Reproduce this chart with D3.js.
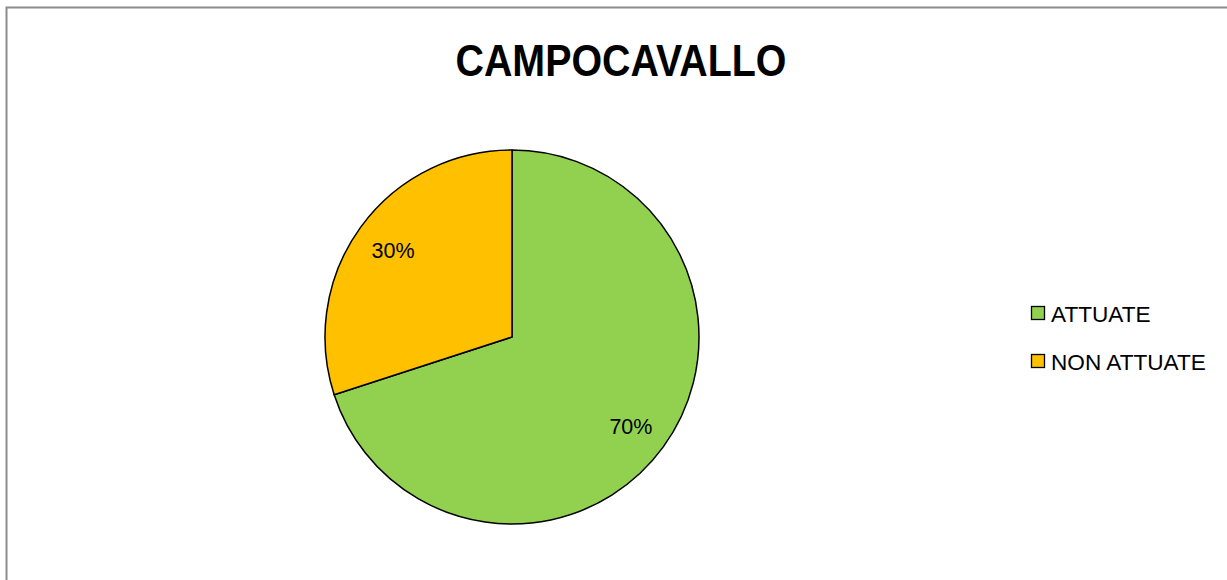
<!DOCTYPE html>
<html><head><meta charset="utf-8">
<script src="https://cdn.jsdelivr.net/npm/d3@7"></script>
<style>body{margin:0;background:#fff}svg{display:block}</style>
</head><body>
<script>
const title = "CAMPOCAVALLO";
const categories = ["ATTUATE", "NON ATTUATE"];
const values = [70, 30];
const labels = ["70%", "30%"];
const colors = ["#92D050", "#FFC000"];

const W = 1227, H = 580;
const svg = d3.select("body").append("svg").attr("width", W).attr("height", H);
svg.append("rect").attr("width", W).attr("height", H).attr("fill", "#fff");
svg.append("rect").attr("x", 6.5).attr("y", 7.5).attr("width", W + 20).attr("height", H + 20)
  .attr("fill", "none").attr("stroke", "#8c8c8c").attr("stroke-width", 2);

svg.append("text").attr("x", 621).attr("y", 76).attr("text-anchor", "middle")
  .attr("font-family", "Liberation Sans, Arial, sans-serif").attr("font-weight", "bold")
  .attr("font-size", 44).attr("textLength", 331).attr("lengthAdjust", "spacingAndGlyphs")
  .text(title);

const cx = 512, cy = 337, r = 187;
const pie = d3.pie().sort(null).value(d => d)(values);
const arc = d3.arc().innerRadius(0).outerRadius(r);
const labelArc = d3.arc().innerRadius(147).outerRadius(147);
const g = svg.append("g").attr("transform", `translate(${cx},${cy})`);
g.selectAll("path").data(pie).join("path")
  .attr("d", arc).attr("fill", (d, i) => colors[i])
  .attr("stroke", "#000").attr("stroke-width", 1.5).attr("stroke-linejoin", "round");
g.selectAll("text").data(pie).join("text")
  .attr("transform", d => `translate(${labelArc.centroid(d)})`)
  .attr("text-anchor", "middle").attr("dy", (d, i) => i === 0 ? "0.5em" : "0.35em")
  .attr("font-family", "Liberation Sans, Arial, sans-serif").attr("font-size", 21.5)
  .text((d, i) => labels[i]);

const leg = svg.append("g");
categories.forEach((c, i) => {
  const y = 306 + i * 48;
  leg.append("rect").attr("x", 1031.5).attr("y", y + 0.5).attr("width", 13).attr("height", 13)
    .attr("fill", colors[i]).attr("stroke", "#000").attr("stroke-width", 1.3);
  leg.append("text").attr("x", 1051).attr("y", y + 15.5)
    .attr("font-family", "Liberation Sans, Arial, sans-serif").attr("font-size", 22.6)
    .text(c);
});
</script>
</body></html>
